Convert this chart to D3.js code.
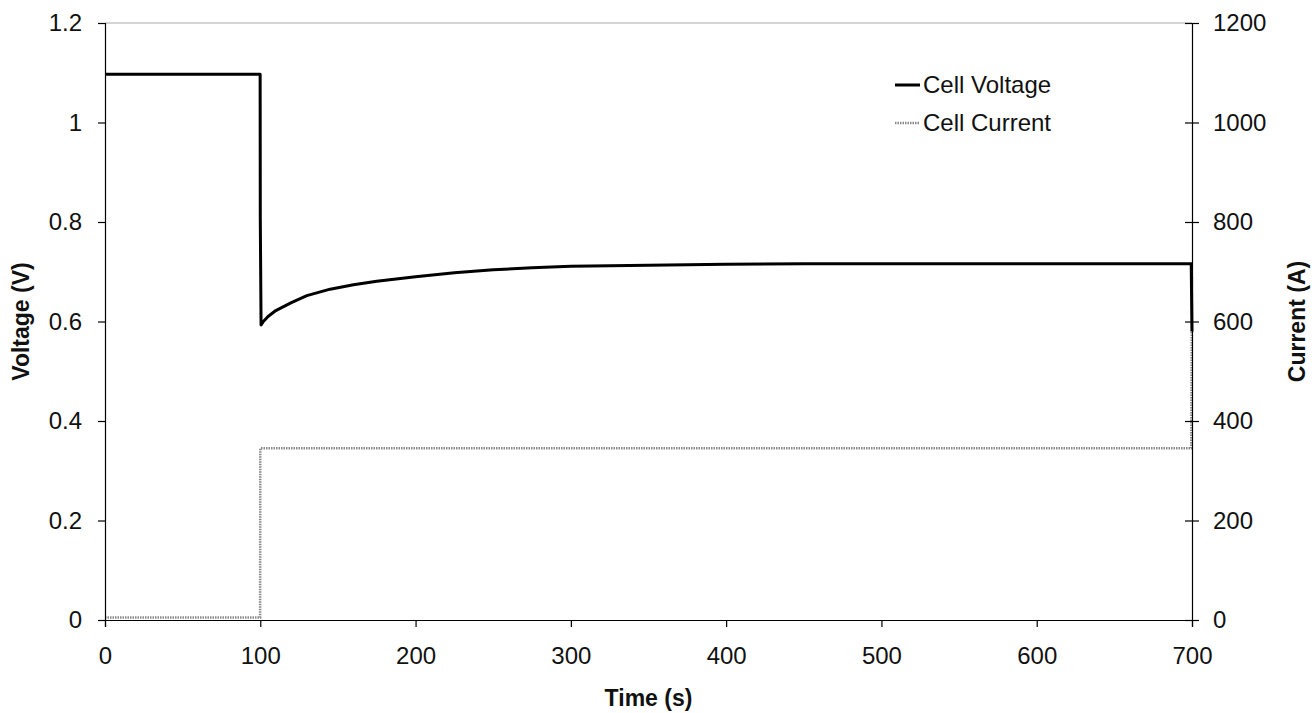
<!DOCTYPE html>
<html>
<head>
<meta charset="utf-8">
<script src="https://cdn.jsdelivr.net/npm/d3@7"></script>
<style>
  body { margin: 0; background: #fff; }
  text { font-family: "Liberation Sans", Arial, sans-serif; fill: #111; }
</style>
</head>
<body>
<svg width="1312" height="713"></svg>
<script>
// time (s) and cell voltage (V)
var volt_time = [0, 99.9, 100, 100.5, 102, 105, 110, 120, 130, 145, 160, 175, 200, 225, 250, 275, 300, 350, 400, 450, 500, 600, 699.5, 700];
var volt_vals = [1.097, 1.097, 0.81, 0.593, 0.600, 0.610, 0.622, 0.638, 0.652, 0.665, 0.674, 0.681, 0.690, 0.698, 0.704, 0.708, 0.711, 0.713, 0.715, 0.716, 0.716, 0.716, 0.716, 0.58];
// time (s) and cell current (A)
var curr_time = [0, 99.9, 100, 699.5, 700];
var curr_vals = [5, 5, 345, 345, 690];
var x_ticks = [0, 100, 200, 300, 400, 500, 600, 700];
var v_ticks = [0, 0.2, 0.4, 0.6, 0.8, 1, 1.2];
var a_ticks = [0, 200, 400, 600, 800, 1000, 1200];
var legend_names = ['Cell Voltage', 'Cell Current'];

var svg = d3.select('svg');
var pLeft = 105, pRight = 1192, pTop = 23, pBottom = 620;

var x = d3.scaleLinear().domain([0, 700]).range([pLeft, pRight]);
var yV = d3.scaleLinear().domain([0, 1.2]).range([pBottom, pTop]);
var yA = d3.scaleLinear().domain([0, 1200]).range([pBottom, pTop]);

// top border of plot area
svg.append('line')
   .attr('x1', pLeft).attr('x2', pRight).attr('y1', pTop).attr('y2', pTop)
   .attr('stroke', '#aaa').attr('stroke-width', 1);

// current line (dotted grey)
var lineA = d3.line().x(function(d, i){ return x(curr_time[i]); }).y(function(d){ return yA(d); });
svg.append('path')
   .attr('d', lineA(curr_vals))
   .attr('fill', 'none')
   .attr('stroke', '#8a8a8a')
   .attr('stroke-width', 2.5)
   .attr('stroke-dasharray', '1.5,1');

// voltage line
var lineV = d3.line().x(function(d, i){ return x(volt_time[i]); }).y(function(d){ return yV(d); });
svg.append('path')
   .attr('d', lineV(volt_vals))
   .attr('fill', 'none')
   .attr('stroke', '#000')
   .attr('stroke-width', 3)
   .attr('stroke-linejoin', 'round');

function styleAxis(g) {
  g.select('.domain').attr('stroke', '#000').attr('stroke-width', 1.2);
  g.selectAll('.tick line').attr('stroke', '#000').attr('stroke-width', 1.2);
  g.selectAll('.tick text')
   .style('font-family', '"Liberation Sans", Arial, sans-serif')
   .style('font-size', '24px')
   .attr('fill', '#111');
}

// bottom axis
var gx = svg.append('g')
   .attr('transform', 'translate(0,' + pBottom + ')')
   .call(d3.axisBottom(x).tickValues(x_ticks).tickFormat(d3.format('d')).tickSizeOuter(0).tickSize(7).tickPadding(20));
styleAxis(gx);

// left axis
var gl = svg.append('g')
   .attr('transform', 'translate(' + pLeft + ',0)')
   .call(d3.axisLeft(yV).tickValues(v_ticks).tickFormat(function(d){ return String(+d.toFixed(1)); }).tickSizeOuter(0).tickSize(7).tickPadding(16));
styleAxis(gl);

// right axis
var gr = svg.append('g')
   .attr('transform', 'translate(' + pRight + ',0)')
   .call(d3.axisRight(yA).tickValues(a_ticks).tickFormat(d3.format('d')).tickSizeOuter(0).tickSize(7).tickPadding(14));
styleAxis(gr);
gr.selectAll('.tick line').attr('x1', -7);

// axis titles
svg.append('text')
   .attr('x', (pLeft + pRight) / 2).attr('y', 706)
   .attr('text-anchor', 'middle')
   .style('font-size', '23px').style('font-weight', 'bold')
   .text('Time (s)');
svg.append('text')
   .attr('transform', 'translate(29,' + (pTop + pBottom) / 2 + ') rotate(-90)')
   .attr('text-anchor', 'middle')
   .style('font-size', '23px').style('font-weight', 'bold')
   .text('Voltage (V)');
svg.append('text')
   .attr('transform', 'translate(1305,' + (pTop + pBottom) / 2 + ') rotate(-90)')
   .attr('text-anchor', 'middle')
   .style('font-size', '23px').style('font-weight', 'bold')
   .text('Current (A)');

// legend
var leg = svg.append('g').attr('transform', 'translate(895,85)');
leg.append('line').attr('x1', 0).attr('x2', 25).attr('y1', 0).attr('y2', 0)
   .attr('stroke', '#000').attr('stroke-width', 3);
leg.append('line').attr('x1', 0).attr('x2', 25).attr('y1', 38).attr('y2', 38)
   .attr('stroke', '#8a8a8a').attr('stroke-width', 2.5).attr('stroke-dasharray', '1.5,1');
leg.selectAll('text.lab')
   .data(legend_names)
   .enter().append('text')
   .attr('class', 'lab')
   .attr('x', 28)
   .attr('y', function(d, i){ return i * 38 + 8; })
   .style('font-size', '24px')
   .text(function(d){ return d; });
</script>
</body>
</html>
